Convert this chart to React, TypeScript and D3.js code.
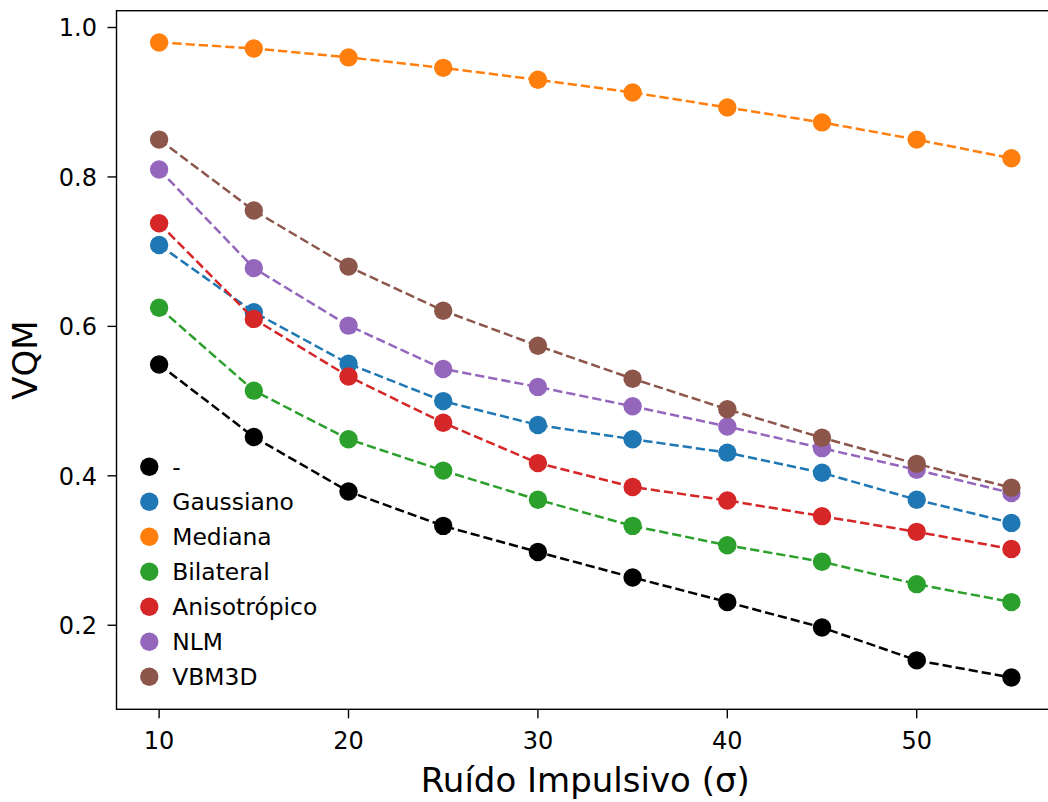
import React from "react";
import * as d3 from "d3";

const xValues = [10, 15, 20, 25, 30, 35, 40, 45, 50, 55];
const seriesNames = ["-", "Gaussiano", "Mediana", "Bilateral", "Anisotrópico", "NLM", "VBM3D"];
const seriesColors = ["#000000", "#1f77b4", "#ff7f0e", "#2ca02c", "#d62728", "#9467bd", "#8c564b"];
const noneValues = [0.549, 0.452, 0.379, 0.333, 0.298, 0.264, 0.231, 0.197, 0.153, 0.13];
const gaussValues = [0.709, 0.619, 0.55, 0.5, 0.468, 0.449, 0.431, 0.404, 0.368, 0.337];
const medianValues = [0.98, 0.972, 0.96, 0.946, 0.93, 0.913, 0.893, 0.873, 0.85, 0.825];
const bilateralValues = [0.625, 0.514, 0.449, 0.407, 0.368, 0.333, 0.307, 0.285, 0.255, 0.231];
const anisoValues = [0.738, 0.61, 0.533, 0.471, 0.417, 0.385, 0.367, 0.346, 0.325, 0.302];
const nlmValues = [0.81, 0.678, 0.601, 0.543, 0.519, 0.493, 0.466, 0.437, 0.408, 0.377];
const vbm3dValues = [0.85, 0.755, 0.68, 0.621, 0.574, 0.53, 0.489, 0.451, 0.416, 0.384];
const xTicks = [10, 20, 30, 40, 50];
const yTicks = [0.2, 0.4, 0.6, 0.8, 1.0];

const allSeries = [noneValues, gaussValues, medianValues, bilateralValues, anisoValues, nlmValues, vbm3dValues];

export default function App() {
  const W = 1048, H = 802;
  const left = 116.5, top = 10.7, bottom = 709.3;
  const x = d3.scaleLinear().domain([7.75, 57.25]).range([left, left + 49.5 * 18.94]);
  const y = d3.scaleLinear().domain([0.0875, 1.0225]).range([bottom, top]);
  const right = x(57.25);
  const line = d3.line<number>().x((_, i) => x(xValues[i])).y((v) => y(v));
  const font = "'DejaVu Sans', sans-serif";
  const tickLen = 9;
  return (
    <svg width={W} height={H} style={{ position: "absolute", left: 0, top: 0, background: "#fff" }} fontFamily={font}>
      <rect x={0} y={0} width={W} height={H} fill="#fff" />
      {allSeries.map((vals, si) => (
        <g key={si}>
          <path d={line(vals) || ""} fill="none" stroke={seriesColors[si]} strokeWidth={2.5} strokeDasharray="9.25,4" />
          {vals.map((v, i) => (
            <circle key={i} cx={x(xValues[i])} cy={y(v)} r={9.2} fill={seriesColors[si]} />
          ))}
        </g>
      ))}
      <rect x={left} y={top} width={right - left} height={bottom - top} fill="none" stroke="#000" strokeWidth={1.4} />
      {xTicks.map((t) => (
        <g key={t}>
          <line x1={x(t)} x2={x(t)} y1={bottom} y2={bottom + tickLen} stroke="#000" strokeWidth={1.4} />
          <text x={x(t)} y={749} textAnchor="middle" fontSize={24} fill="#000">{t}</text>
        </g>
      ))}
      {yTicks.map((t) => (
        <g key={t}>
          <line x1={left - tickLen} x2={left} y1={y(t)} y2={y(t)} stroke="#000" strokeWidth={1.4} />
          <text x={97} y={y(t) + 8.7} textAnchor="end" fontSize={24} fill="#000">{t.toFixed(1)}</text>
        </g>
      ))}
      <text x={(left + right) / 2} y={791.5} textAnchor="middle" fontSize={34} fill="#000">Ruído Impulsivo (σ)</text>
      <text transform={`translate(36.7, ${(top + bottom) / 2}) rotate(-90)`} textAnchor="middle" fontSize={34} fill="#000">VQM</text>
      {seriesNames.map((name, i) => {
        const cy = 466.7 + i * 35;
        return (
          <g key={name}>
            <circle cx={149.3} cy={cy} r={9.2} fill={seriesColors[i]} />
            <text x={172.3} y={cy + 8.5} fontSize={23.4} fill="#000">{name}</text>
          </g>
        );
      })}
    </svg>
  );
}
